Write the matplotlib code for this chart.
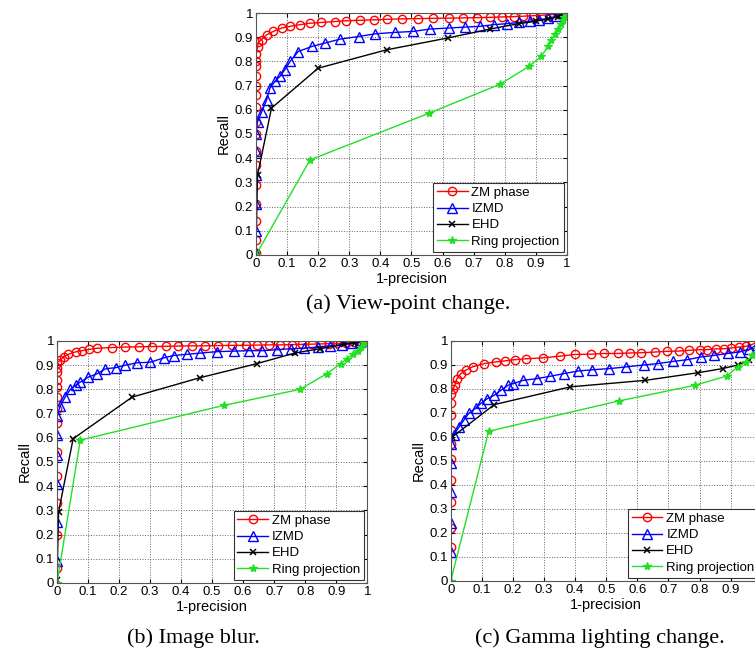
import matplotlib
matplotlib.use('Agg')
import matplotlib.pyplot as plt
from matplotlib.ticker import FuncFormatter

plt.rcParams['font.family'] = ['Liberation Sans', 'DejaVu Sans']

labels = ['ZM phase', 'IZMD', 'EHD', 'Ring projection']
tick_vals = [0, 0.1, 0.2, 0.3, 0.4, 0.5, 0.6, 0.7, 0.8, 0.9, 1]
captions = ['(a) View-point change.', '(b) Image blur.', '(c) Gamma lighting change.']

# (a) view-point change
a_zm_x = [0, 0, 0, 0, 0, 0, 0, 0, 0, 0, 0, 0, 0, 0, 0, 0, 0.005, 0.008,
          0.018, 0.034, 0.056, 0.083, 0.11, 0.142, 0.174, 0.21, 0.254, 0.29, 0.335, 0.378,
          0.42, 0.469, 0.52, 0.57, 0.62, 0.667, 0.71, 0.753, 0.79, 0.83, 0.86, 0.89,
          0.92, 0.946, 0.97, 0.99]
a_zm_y = [0.01, 0.06, 0.14, 0.21, 0.29, 0.37, 0.43, 0.50, 0.55, 0.61, 0.66, 0.70, 0.74, 0.78,
          0.80, 0.83, 0.86, 0.88,
          0.89, 0.91, 0.924, 0.938, 0.945, 0.952, 0.958, 0.961, 0.965, 0.968, 0.970, 0.972,
          0.974, 0.976, 0.977, 0.978, 0.979, 0.980, 0.981, 0.982, 0.984, 0.985, 0.987, 0.989,
          0.991, 0.993, 0.996, 1.0]
a_iz_x = [0, 0, 0, 0, 0, 0, 0.005, 0.018, 0.034, 0.045, 0.061, 0.077, 0.093, 0.11, 0.136,
          0.18, 0.222, 0.27, 0.33, 0.383, 0.447, 0.506, 0.56, 0.62, 0.673, 0.72, 0.764,
          0.807, 0.845, 0.88, 0.91, 0.94, 0.965, 0.99]
a_iz_y = [0.01, 0.10, 0.21, 0.33, 0.43, 0.50, 0.55, 0.59, 0.64, 0.69, 0.717, 0.738, 0.766,
          0.80, 0.841, 0.862, 0.876, 0.892, 0.903, 0.914, 0.92, 0.924, 0.934, 0.938, 0.942,
          0.945, 0.952, 0.956, 0.961, 0.966, 0.972, 0.978, 0.986, 1.0]
a_eh_x = [0, 0.005, 0.05, 0.2, 0.42, 0.617, 0.753, 0.845, 0.9, 0.94, 0.97, 0.99]
a_eh_y = [0.01, 0.33, 0.607, 0.772, 0.848, 0.897, 0.934, 0.956, 0.966, 0.976, 0.985, 1.0]
a_rp_x = [0, 0.174, 0.557, 0.785, 0.877, 0.917, 0.939, 0.95, 0.962, 0.972, 0.98, 0.986, 0.99, 0.993]
a_rp_y = [0, 0.393, 0.586, 0.706, 0.779, 0.821, 0.862, 0.89, 0.915, 0.935, 0.955, 0.97, 0.985, 1.0]

# (b) image blur
b_zm_x = [0] * 13 + [0.01, 0.021, 0.037, 0.06, 0.08, 0.102, 0.13, 0.177, 0.22, 0.263, 0.306,
                     0.35, 0.39, 0.435, 0.478, 0.52, 0.565, 0.608, 0.645, 0.683, 0.72, 0.758,
                     0.79, 0.823, 0.85, 0.876, 0.903, 0.93, 0.957, 0.978, 0.99]
b_zm_y = [0.06, 0.2, 0.33, 0.44, 0.54, 0.66, 0.72, 0.77, 0.81, 0.84, 0.87, 0.89, 0.91,
          0.92, 0.935, 0.945, 0.955, 0.96, 0.965, 0.97, 0.973, 0.975, 0.976, 0.977, 0.978,
          0.979, 0.98, 0.98, 0.981, 0.982, 0.982, 0.983, 0.984, 0.984, 0.985, 0.986, 0.987,
          0.988, 0.989, 0.99, 0.992, 0.994, 0.997, 1.0]
b_iz_x = [0] * 6 + [0.01, 0.027, 0.043, 0.06, 0.075, 0.1, 0.13, 0.156, 0.19, 0.22, 0.258, 0.3,
                    0.344, 0.376, 0.42, 0.462, 0.516, 0.57, 0.618, 0.66, 0.71, 0.753, 0.796,
                    0.84, 0.88, 0.92, 0.95, 0.975, 0.99]
b_iz_y = [0.09, 0.25, 0.41, 0.53, 0.61, 0.69,
          0.73, 0.77, 0.80, 0.817, 0.83, 0.85, 0.865, 0.885, 0.89, 0.90, 0.91, 0.912, 0.93,
          0.94, 0.945, 0.95, 0.956, 0.958, 0.96, 0.96, 0.964, 0.968, 0.97, 0.975, 0.98, 0.985,
          0.99, 0.995, 1.0]
b_eh_x = [0, 0.005, 0.052, 0.242, 0.46, 0.643, 0.766, 0.847, 0.925, 0.96, 0.99]
b_eh_y = [0.01, 0.293, 0.596, 0.768, 0.848, 0.906, 0.95, 0.968, 0.986, 0.993, 1.0]
b_rp_x = [0, 0.075, 0.538, 0.783, 0.87, 0.914, 0.935, 0.955, 0.97, 0.98, 0.99, 0.995]
b_rp_y = [0, 0.59, 0.734, 0.8, 0.865, 0.906, 0.927, 0.945, 0.96, 0.975, 0.99, 1.0]

# (c) gamma lighting change
c_zm_x = [0] * 10 + [0.008, 0.013, 0.02, 0.032, 0.048, 0.07, 0.108, 0.146, 0.173, 0.205,
                     0.243, 0.298, 0.352, 0.4, 0.45, 0.493, 0.537, 0.575, 0.613, 0.657, 0.695,
                     0.733, 0.765, 0.8, 0.825, 0.852, 0.88, 0.9, 0.928, 0.95, 0.97, 0.99]
c_zm_y = [0.14, 0.22, 0.33, 0.42, 0.51, 0.57, 0.63, 0.69, 0.74, 0.78,
          0.80, 0.816, 0.843, 0.864, 0.878, 0.892, 0.906, 0.913, 0.917, 0.922, 0.926, 0.93,
          0.937, 0.944, 0.945, 0.948, 0.948, 0.95, 0.951, 0.954, 0.957, 0.958, 0.961, 0.964,
          0.964, 0.967, 0.968, 0.971, 0.975, 0.978, 0.986, 1.0]
c_iz_x = [0] * 5 + [0.01, 0.026, 0.042, 0.058, 0.08, 0.097, 0.118, 0.14, 0.162, 0.184, 0.2,
                    0.233, 0.276, 0.32, 0.363, 0.41, 0.455, 0.51, 0.564, 0.62, 0.667, 0.716,
                    0.76, 0.803, 0.847, 0.89, 0.93, 0.96, 0.985, 1.0]
c_iz_y = [0.12, 0.24, 0.37, 0.49, 0.57,
          0.61, 0.64, 0.67, 0.698, 0.72, 0.74, 0.76, 0.774, 0.795, 0.815, 0.822, 0.836, 0.843,
          0.853, 0.864, 0.875, 0.88, 0.885, 0.892, 0.9, 0.906, 0.915, 0.922, 0.933, 0.94,
          0.948, 0.955, 0.965, 0.985, 1.0]
c_eh_x = [0.005, 0.14, 0.385, 0.626, 0.796, 0.874, 0.923, 0.96, 0.99, 1.0]
c_eh_y = [0.6, 0.735, 0.809, 0.836, 0.868, 0.885, 0.9, 0.92, 0.96, 1.0]
c_rp_x = [0, 0.122, 0.54, 0.784, 0.887, 0.923, 0.95, 0.97, 0.985, 1.0]
c_rp_y = [0, 0.624, 0.75, 0.815, 0.854, 0.892, 0.913, 0.94, 0.97, 1.0]

panels = [
    ([0.339, 0.609, 0.412, 0.371], (a_zm_x, a_zm_y), (a_iz_x, a_iz_y), (a_eh_x, a_eh_y), (a_rp_x, a_rp_y)),
    ([0.0755, 0.106, 0.411, 0.371], (b_zm_x, b_zm_y), (b_iz_x, b_iz_y), (b_eh_x, b_eh_y), (b_rp_x, b_rp_y)),
    ([0.597, 0.109, 0.412, 0.368], (c_zm_x, c_zm_y), (c_iz_x, c_iz_y), (c_eh_x, c_eh_y), (c_rp_x, c_rp_y)),
]

styles = [
    dict(color='red', marker='o', ms=6, mfc='none', mew=1.0),
    dict(color='blue', marker='^', ms=6.5, mfc='none', mew=1.0),
    dict(color='black', marker='x', ms=4.5, mew=1.1),
    dict(color='#22e022', marker='*', ms=6, mew=0.9),
]

fig = plt.figure(figsize=(7.55, 6.52), dpi=100)

for pos, *series in panels:
    ax = fig.add_axes(pos)
    for (xs, ys), st, lab in zip(series, styles, labels):
        ax.plot(xs, ys, lw=1.0, label=lab, **st)
    ax.set_xlim(0, 1)
    ax.set_ylim(0, 1)
    ax.set_xticks(tick_vals)
    ax.set_yticks(tick_vals)
    fmt = FuncFormatter(lambda v, p: '%g' % round(v, 2))
    ax.xaxis.set_major_formatter(fmt)
    ax.yaxis.set_major_formatter(fmt)
    ax.tick_params(direction='in', top=True, right=True, length=3, labelsize=9.5, pad=2)
    ax.grid(True, linestyle=':', color='#666666', linewidth=0.7)
    for s in ax.spines.values():
        s.set_color('#555555')
        s.set_linewidth(0.8)
    ax.set_xlabel('1-precision', fontsize=10.5, labelpad=1.5)
    ax.set_ylabel('Recall', fontsize=10.5, labelpad=3)
    leg = ax.legend(loc='lower right', fontsize=9.5, fancybox=False, framealpha=1,
                    edgecolor='#333333', borderaxespad=0.25, borderpad=0.3,
                    handlelength=2.3, handletextpad=0.3, labelspacing=0.3)
    leg.get_frame().set_linewidth(0.8)

cap_font = dict(family=['Liberation Serif', 'DejaVu Serif'], fontsize=16, ha='center', va='center')
fig.text(408 / 755, 1 - 304 / 652, captions[0], **cap_font)
fig.text(193 / 755, 1 - 638 / 652, captions[1], **cap_font)
fig.text(600 / 755, 1 - 638 / 652, captions[2], **cap_font)

fig.savefig('out.png', dpi=100)
